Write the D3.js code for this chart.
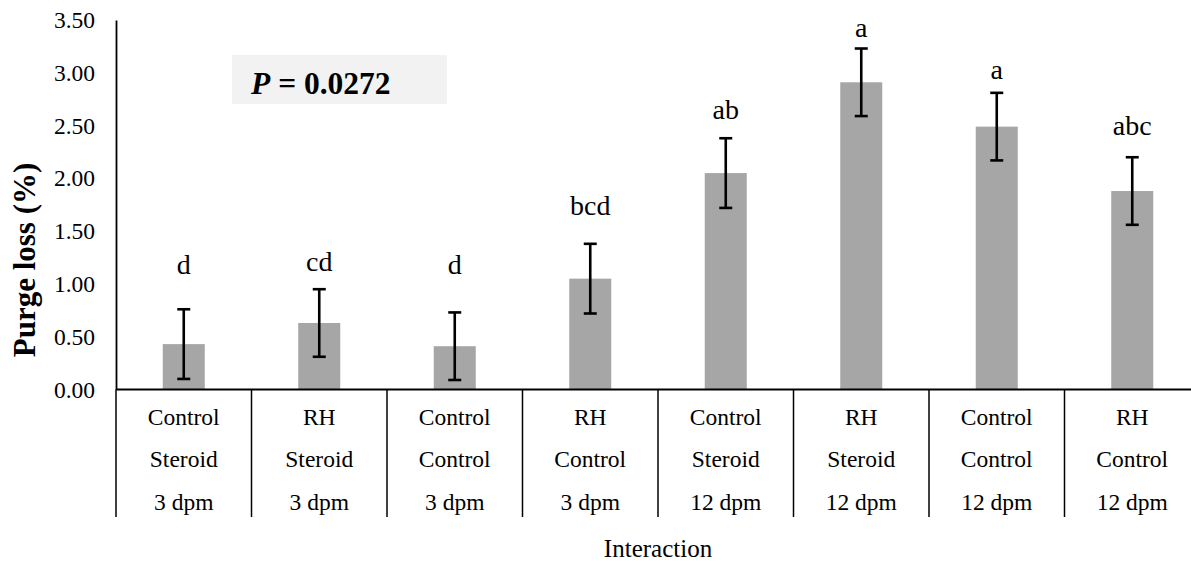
<!DOCTYPE html>
<html>
<head>
<meta charset="utf-8">
<script src="https://cdn.jsdelivr.net/npm/d3@7"></script>
<style>
  html, body { margin: 0; padding: 0; background: #ffffff; }
  svg { display: block; }
  text { font-family: "Liberation Serif", "Times New Roman", Times, serif; fill: #000; }
</style>
</head>
<body>
<svg id="chart" width="1191" height="561"></svg>
<script>
// ---- data ----
const treatment = ["Control", "RH", "Control", "RH", "Control", "RH", "Control", "RH"];
const feed = ["Steroid", "Steroid", "Control", "Control", "Steroid", "Steroid", "Control", "Control"];
const age = ["3 dpm", "3 dpm", "3 dpm", "3 dpm", "12 dpm", "12 dpm", "12 dpm", "12 dpm"];
const purgeLoss = [0.43, 0.63, 0.41, 1.05, 2.05, 2.91, 2.49, 1.88];
const stdErr = [0.33, 0.32, 0.32, 0.33, 0.33, 0.32, 0.32, 0.32];
const letters = ["d", "cd", "d", "bcd", "ab", "a", "a", "abc"];
const letterLevel = [1.09, 1.12, 1.09, 1.65, 2.56, 3.34, 2.94, 2.41];
const yTicks = [0, 0.5, 1, 1.5, 2, 2.5, 3, 3.5];
const pText = "0.0272";
const xTitle = "Interaction";
const yTitle = "Purge loss (%)";

(function () {
// ---- layout ----
const svg = d3.select("#chart");
const mLeft = 116, mTop = 20, mBottom = 389.5, bandW = 135.5;
const mRight = mLeft + bandW * treatment.length;
const idx = d3.range(treatment.length);

const x = d3.scaleBand().domain(idx).range([mLeft, mRight]).padding(0);
const y = d3.scaleLinear().domain([0, 3.5]).range([mBottom, mTop]);
const barW = x.bandwidth() * 0.31;

// P value box
svg.append("rect").attr("x", 232).attr("y", 55).attr("width", 215).attr("height", 49).attr("fill", "#f2f2f2");
const pt = svg.append("text").attr("x", 251).attr("y", 94)
  .style("font-size", "31.5px").style("font-weight", "bold");
pt.append("tspan").style("font-style", "italic").text("P");
pt.append("tspan").text(" = " + pText);

// bars
svg.append("g").selectAll("rect").data(idx).join("rect")
  .attr("x", i => x(i) + (x.bandwidth() - barW) / 2)
  .attr("width", barW)
  .attr("y", i => y(purgeLoss[i]))
  .attr("height", i => y(0) - y(purgeLoss[i]))
  .attr("fill", "#a6a6a6");

// error bars
const eb = svg.append("g").attr("stroke", "#000").attr("stroke-width", 2.6);
idx.forEach(i => {
  const cx = x(i) + x.bandwidth() / 2;
  const hi = y(purgeLoss[i] + stdErr[i]);
  const lo = y(purgeLoss[i] - stdErr[i]);
  eb.append("line").attr("x1", cx).attr("x2", cx).attr("y1", hi).attr("y2", lo);
  eb.append("line").attr("x1", cx - 6.5).attr("x2", cx + 6.5).attr("y1", hi).attr("y2", hi);
  eb.append("line").attr("x1", cx - 6.5).attr("x2", cx + 6.5).attr("y1", lo).attr("y2", lo);
});

// significance letters
svg.append("g").selectAll("text").data(idx).join("text")
  .attr("x", i => x(i) + x.bandwidth() / 2)
  .attr("y", i => y(letterLevel[i]))
  .attr("text-anchor", "middle")
  .style("font-size", "28px")
  .text(i => letters[i]);

// y axis
const yAxis = d3.axisLeft(y).tickValues(yTicks).tickFormat(d3.format(".2f"))
  .tickSizeInner(0).tickSizeOuter(0).tickPadding(21);
const gy = svg.append("g").attr("transform", `translate(${mLeft},0)`).call(yAxis);
gy.select(".domain").attr("stroke", "#000").attr("stroke-width", 1.8);
gy.selectAll(".tick text")
  .style("font-family", '"Liberation Serif", "Times New Roman", serif')
  .style("font-size", "23.5px").attr("fill", "#000");

// x axis baseline
svg.append("line").attr("x1", mLeft).attr("x2", 1191).attr("y1", mBottom).attr("y2", mBottom)
  .attr("stroke", "#000").attr("stroke-width", 1.8);

// category separators
const seps = d3.range(treatment.length + 1).map(k => mLeft + k * x.step());
svg.append("g").selectAll("line").data(seps).join("line")
  .attr("x1", d => d).attr("x2", d => d)
  .attr("y1", mBottom).attr("y2", 517)
  .attr("stroke", "#000").attr("stroke-width", 1.5);

// category labels (3 rows)
const rows = [treatment, feed, age];
const rowBase = [425, 467, 510];
rows.forEach((arr, r) => {
  svg.append("g").selectAll("text").data(idx).join("text")
    .attr("x", i => x(i) + x.bandwidth() / 2)
    .attr("y", rowBase[r])
    .attr("text-anchor", "middle")
    .style("font-size", "23.5px")
    .text(i => arr[i]);
});

// axis titles
svg.append("text").attr("x", (mLeft + mRight) / 2).attr("y", 557)
  .attr("text-anchor", "middle").style("font-size", "25px").text(xTitle);
svg.append("text").attr("transform", "translate(35,260) rotate(-90)")
  .attr("text-anchor", "middle").style("font-size", "31px").style("font-weight", "bold").text(yTitle);
})();
</script>
</body>
</html>
